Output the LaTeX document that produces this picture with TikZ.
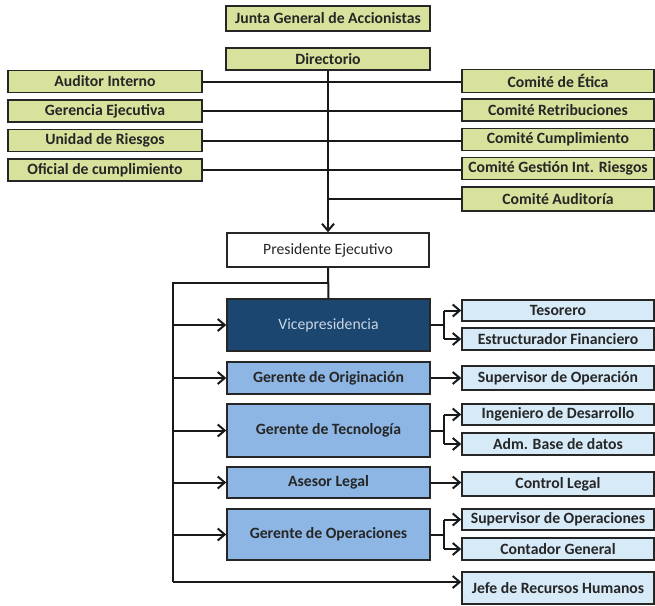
\documentclass[tikz,border=0pt]{standalone}
\usepackage{fontspec}
\setmainfont{Carlito}
\usetikzlibrary{arrows.meta,calc}
\definecolor{olivebox}{HTML}{D8E29C}
\definecolor{navybox}{HTML}{1A4670}
\definecolor{midblue}{HTML}{8DB6E4}
\definecolor{lightblue}{HTML}{D6EAF8}
\definecolor{vicetext}{HTML}{CCD6E3}
\tikzset{
  x=1pt,y=-1pt,
  box/.style={draw=black!85,line width=1.5pt,inner sep=0pt,font=\fontsize{15.7}{17}\selectfont\bfseries,text=black!85},
  ybox/.style={box,fill=olivebox},
  wbox/.style={box,fill=white,font=\fontsize{15.7}{17}\selectfont},
  nbox/.style={box,fill=navybox,text=vicetext,font=\fontsize{15.7}{17}\selectfont},
  mbox/.style={box,fill=midblue},
  lbox/.style={box,fill=lightblue},
  conn/.style={line width=2pt,draw=black!90},
  arr/.style={conn,-{Straight Barb[length=7pt,width=12pt,line width=2pt]}},
}
\begin{document}
\begin{tikzpicture}
\useasboundingbox (0,0) rectangle (655,605);
% top
\node[ybox,minimum width=204,minimum height=25] (junta) at (328,18.5) {Junta General de Accionistas};
\node[ybox,minimum width=204,minimum height=22] (dir) at (328,59) {Directorio};
% left
\node[ybox,minimum width=194,minimum height=22] (aud) at (105,81.5) {Auditor Interno};
\node[ybox,minimum width=194,minimum height=22] (ger) at (105,111) {Gerencia Ejecutiva};
\node[ybox,minimum width=194,minimum height=22] (uni) at (105,140.5) {Unidad de Riesgos};
\node[ybox,minimum width=194,minimum height=22] (ofi) at (105,170) {Oficial de cumplimiento};
% right
\node[ybox,minimum width=192,minimum height=23] (eti) at (558,81) {Comité de Ética};
\node[ybox,minimum width=192,minimum height=22] (ret) at (558,110) {Comité Retribuciones};
\node[ybox,minimum width=192,minimum height=22] (cum) at (558,139.5) {Comité Cumplimiento};
\node[ybox,minimum width=192,minimum height=22] (ges) at (558,168.5) {Comité Gestión Int. Riesgos};
\node[ybox,minimum width=192,minimum height=24] (cau) at (558,199) {Comité Auditoría};
% president
\node[wbox,minimum width=202,minimum height=34] (pre) at (328,250) {Presidente Ejecutivo};
% second level
\node[nbox,minimum width=203,minimum height=52] (vic) at (328.5,325) {Vicepresidencia};
\node[mbox,minimum width=203,minimum height=32] (gor) at (328.5,378) {Gerente de Originación};
\node[mbox,minimum width=203,minimum height=53] (gte) at (328.5,430.5) {Gerente de Tecnología};
\node[mbox,minimum width=203,minimum height=31] (ase) at (328.5,482.5) {Asesor Legal};
\node[mbox,minimum width=203,minimum height=51] (gop) at (328.5,534.5) {Gerente de Operaciones};
% third level
\node[lbox,minimum width=192,minimum height=21] (tes) at (558,310.5) {Tesorero};
\node[lbox,minimum width=192,minimum height=22] (est) at (558,339) {Estructurador Financiero};
\node[lbox,minimum width=192,minimum height=24] (sup) at (558,378) {Supervisor de Operación};
\node[lbox,minimum width=192,minimum height=21] (ing) at (558,414.5) {Ingeniero de Desarrollo};
\node[lbox,minimum width=192,minimum height=22] (adm) at (558,444) {Adm. Base de datos};
\node[lbox,minimum width=192,minimum height=24] (con) at (558,484) {Control Legal};
\node[lbox,minimum width=192,minimum height=21] (sop) at (558,519.5) {Supervisor de Operaciones};
\node[lbox,minimum width=192,minimum height=22] (cog) at (558,549) {Contador General};
\node[lbox,minimum width=192,minimum height=32] (jef) at (558,588) {Jefe de Recursos Humanos};
% board connectors
\draw[conn] (aud.east) -- (aud.east -| eti.west);
\draw[conn] (ger.east) -- (ger.east -| ret.west);
\draw[conn] (uni.east) -- (uni.east -| cum.west);
\draw[conn] (ofi.east) -- (ofi.east -| ges.west);
\draw[conn] (dir.south |- cau.west) -- (cau.west);
\draw[arr] (dir.south) -- (pre.north);
% president trunk
\coordinate (tt) at (173,283);
\coordinate (tb) at (173,582);
\draw[conn] (pre.south) -- (vic.north);
\draw[conn] (pre.south |- tt) -- (tt) -- (tb);
\draw[arr] (tt |- vic.west) -- (vic.west);
\draw[arr] (tt |- gor.west) -- (gor.west);
\draw[arr] (tt |- gte.west) -- (gte.west);
\draw[arr] (tt |- ase.west) -- (ase.west);
\draw[arr] (tt |- gop.west) -- (gop.west);
\draw[arr] (tb) -- (tb -| jef.west);
% forks
\coordinate (f1) at ($(vic.east)+(13,0)$);
\draw[conn] (vic.east) -- (f1);
\draw[conn] (f1 |- tes.west) -- (f1 |- est.west);
\draw[arr] (f1 |- tes.west) -- (tes.west);
\draw[arr] (f1 |- est.west) -- (est.west);
\draw[arr] (gor.east) -- (gor.east -| sup.west);
\coordinate (f2) at ($(gte.east)+(13,0)$);
\draw[conn] (gte.east) -- (f2);
\draw[conn] (f2 |- ing.west) -- (f2 |- adm.west);
\draw[arr] (f2 |- ing.west) -- (ing.west);
\draw[arr] (f2 |- adm.west) -- (adm.west);
\draw[arr] (ase.east) -- (ase.east -| con.west);
\coordinate (f3) at ($(gop.east)+(13,0)$);
\draw[conn] (gop.east) -- (f3);
\draw[conn] (f3 |- sop.west) -- (f3 |- cog.west);
\draw[arr] (f3 |- sop.west) -- (sop.west);
\draw[arr] (f3 |- cog.west) -- (cog.west);
\end{tikzpicture}
\end{document}
